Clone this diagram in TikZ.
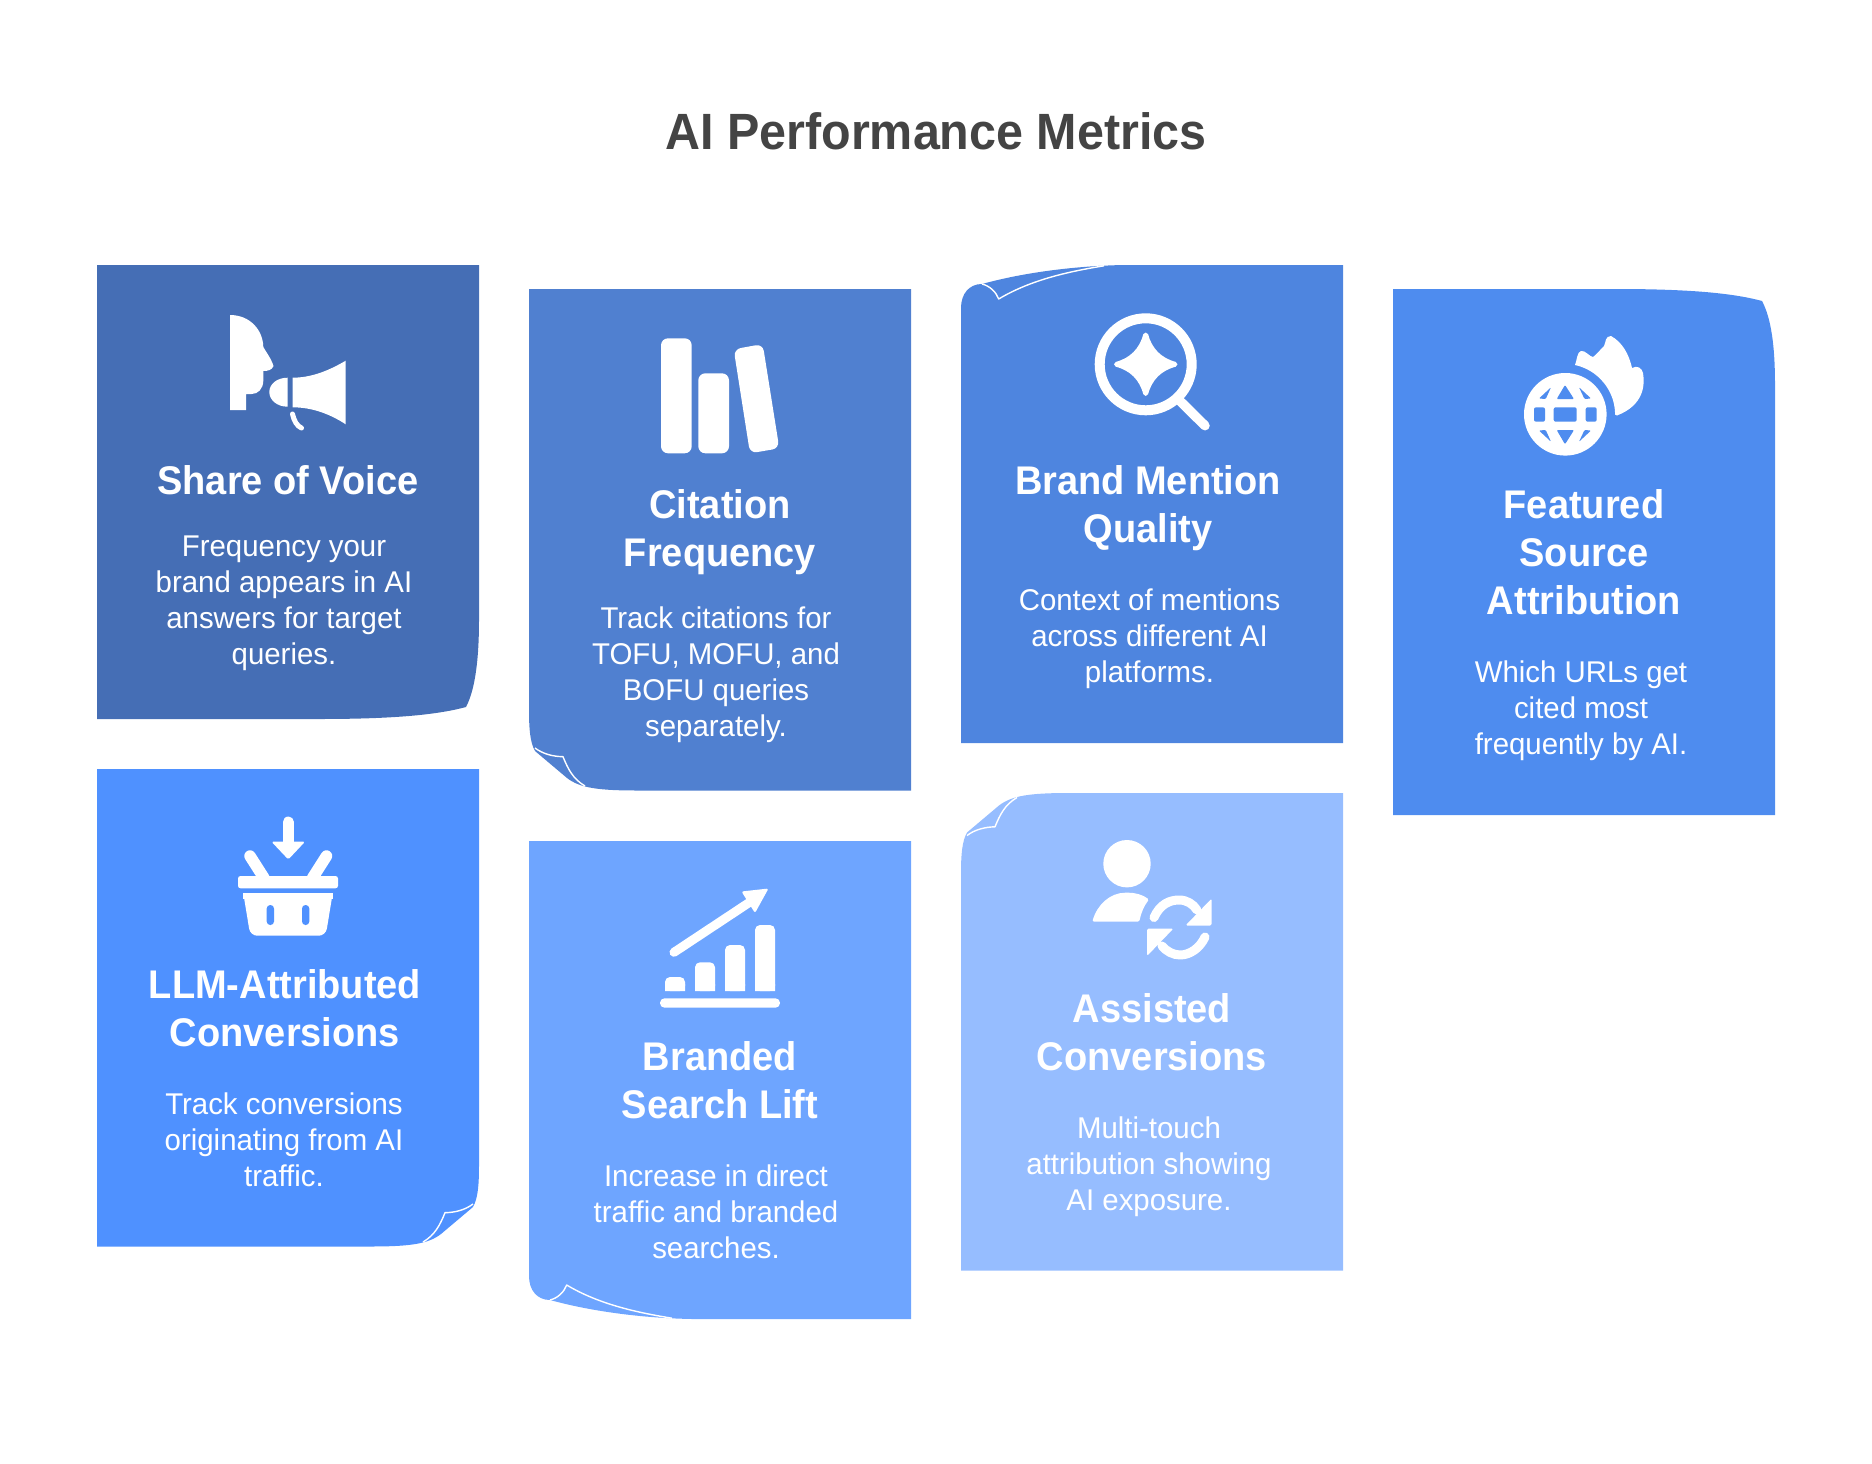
\documentclass[tikz,border=0pt]{standalone}
\usepackage{fontspec}
\setmainfont[FakeStretch=0.98]{Liberation Sans}
\newfontfamily\headfont[FakeStretch=0.95]{Liberation Sans}
\definecolor{cardA}{HTML}{456EB5}
\definecolor{cardB}{HTML}{5080D0}
\definecolor{cardC}{HTML}{4E85DF}
\definecolor{cardD}{HTML}{4E8CEF}
\definecolor{cardE}{HTML}{4F91FF}
\definecolor{cardF}{HTML}{6EA5FF}
\definecolor{cardG}{HTML}{96BDFF}
\definecolor{titlegrey}{HTML}{444444}

\begin{document}
\begin{tikzpicture}
    [x=1pt,y=-1pt,
    cardhead/.style={anchor=base,align=center,text=white,inner sep=0pt,
    font=\headfont\bfseries\fontsize{40}{48}\selectfont},
    cardbody/.style={anchor=base,align=center,text=white,inner sep=0pt,
    font=\fontsize{30}{36}\selectfont},
    curl/.style={draw=white,line width=1.4pt,line join=round},
    icon/.style={fill=white,draw=none},
    iconline/.style={draw=white,line cap=round,line join=round}]
    \useasboundingbox (0,0) rectangle (1872,1464);
    \node[anchor=base,inner sep=0pt,text=titlegrey,font=\headfont\bfseries\fontsize{51}{60}\selectfont] (title) at (936,149) {AI Performance Metrics};

    % cards
    \fill[cardA] (97,265) -- (479,265) -- (479,620) .. controls (479,660) and (475,690) .. (466,707) .. controls (440,714) and (400,719) .. (320,719) -- (97,719) -- cycle;
    \fill[cardB] (529,289) -- (911,289) -- (911,790.5) -- (638,790.5) .. controls (598,790.5) and (580,788) .. (567,778) -- (535,751) .. controls (530,742) and (529,729) .. (529,709) -- cycle;
    \draw[curl] (535,748) .. controls (543,754) and (553,756.5) .. (563,756.7) .. controls (568,769) and (573,779) .. (585,786);
    \fill[cardC] (961,743) -- (1343,743) -- (1343,265) -- (1124,265) .. controls (1072,266) and (1022,273) .. (982,284) .. controls (969,284) and (961,294) .. (961,308) -- cycle;
    \draw[curl] (982,284) .. controls (990,286) and (996,292) .. (998.7,299) .. controls (1032,279) and (1072,271) .. (1104,265.8);
    \fill[cardD] (1393,815) -- (1775,815) -- (1775,385) .. controls (1775,345) and (1771,318) .. (1762,301) .. controls (1736,294) and (1696,289) .. (1616,289) -- (1393,289) -- cycle;
    \fill[cardE] (97,769) -- (479,769) -- (479,1165) .. controls (479,1185) and (478,1198) .. (473,1207) -- (441,1234) .. controls (428,1244) and (410,1246.5) .. (370,1246.5) -- (97,1246.5) -- cycle;
    \draw[curl] (473,1204) .. controls (465,1210) and (455,1212.5) .. (445,1212.7) .. controls (440,1225) and (435,1235) .. (423,1242);
    \fill[cardF] (529,841) -- (911,841) -- (911,1319) -- (692,1319) .. controls (640,1318) and (590,1311) .. (550,1300) .. controls (537,1300) and (529,1290) .. (529,1276) -- cycle;
    \draw[curl] (550,1300) .. controls (558,1298) and (564,1292) .. (566.7,1285) .. controls (600,1305) and (640,1313) .. (672,1318.2);
    \fill[cardG] (961,874.5) .. controls (961,854.5) and (962,841.5) .. (967,832.5) -- (999,805.5) .. controls (1012,795.5) and (1030,793) .. (1070,793) -- (1343,793) -- (1343,1270.5) -- (961,1270.5) -- cycle;
    \draw[curl] (967,835.5) .. controls (975,829.5) and (985,827) .. (995,826.8) .. controls (1000,814.5) and (1005,804.5) .. (1017,797.5);

    % speaker and megaphone
    \fill[icon] (230,315) .. controls (250,315) and (263,330) .. (263.3,347) .. controls (266,352) and (271,358) .. (273.5,366) .. controls (272,370) and (268,371) .. (263.3,371) -- (263.3,381) .. controls (263,389) and (258,394) .. (251.7,394) -- (246,394) -- (246,410) -- (230,410) -- cycle;
    \fill[icon] (287.7,377.7) -- (287.7,406.7) .. controls (277,406.7) and (269.3,400) .. (269.3,392) .. controls (269.3,384) and (277,377.7) .. (287.7,377.7) -- cycle;
    \fill[icon] (292.7,377.7) .. controls (312,377.7) and (330,370) .. (345.7,360.7) -- (345.7,424.3) .. controls (330,414) and (312,407.3) .. (292.7,407.3) -- cycle;
    \draw[iconline,line width=5pt] (292.5,414) .. controls (294,421) and (297,426) .. (301.5,428);

    % books
    \fill[icon,rounded corners=7pt] (661,338.3) rectangle (691.7,453.3);
    \fill[icon,rounded corners=7pt] (698.3,373.3) rectangle (729,453.3);
    \fill[icon,rounded corners=7pt] (733.7,349.3) -- (762.7,344) -- (779.3,448.3) -- (750,453.3) -- cycle;

    % magnifier with spark
    \draw[iconline,line width=10pt] (1145.7,364.3) circle[radius=46pt];
    \draw[iconline,line width=9.5pt] (1180,401) -- (1205,425.7);
    \filldraw[icon,iconline,line width=5pt] (1145.7,335) .. controls (1149.7,350) and (1159.7,360.3) .. (1175,364.3) .. controls (1159.7,368.3) and (1149.7,378.3) .. (1145.7,393.5) .. controls (1141.7,378.3) and (1131.7,368.3) .. (1116.5,364.3) .. controls (1131.7,360.3) and (1141.7,350) .. (1145.7,335) -- cycle;

    % globe and flame
    \fill[icon] (1565.3,414.3) circle[radius=41.3pt];
    \fill[cardD,rounded corners=2pt] (1553.7,407.3) rectangle (1576.7,421.7);
    \fill[cardD,rounded corners=2pt] (1534,407.3) rectangle (1545,421.7);
    \fill[cardD,rounded corners=2pt] (1585.7,407.3) rectangle (1596.7,421.7);
    \fill[cardD,rounded corners=1pt] (1565,385) -- (1574,399) -- (1556.7,399) -- cycle;
    \fill[cardD,rounded corners=1pt] (1565,444.3) -- (1574,430) -- (1556.7,430) -- cycle;
    \fill[cardD,rounded corners=1pt] (1551,387.3) -- (1545.7,399) -- (1539,398.5) -- cycle;
    \fill[cardD,rounded corners=1pt] (1579,387.3) -- (1584.5,399) -- (1591,398.5) -- cycle;
    \fill[cardD,rounded corners=1pt] (1551,441.7) -- (1545.7,430) -- (1539,430.5) -- cycle;
    \fill[cardD,rounded corners=1pt] (1579,441.7) -- (1584.5,430) -- (1591,430.5) -- cycle;
    \fill[icon] (1575,365) .. controls (1577,360) and (1577,352) .. (1581,351) .. controls (1585,350) and (1590,357) .. (1593,357) .. controls (1596,355) and (1600,350) .. (1604,346) .. controls (1606,342) and (1605,336) .. (1611,336) .. controls (1622,342) and (1629,354) .. (1632,368) .. controls (1637,365) and (1642,368) .. (1643,373) .. controls (1645,385) and (1644,405) .. (1617,415.5) .. controls (1615,416) and (1615,414) .. (1615,412) .. controls (1614,390) and (1598,370) .. (1575,365) -- cycle;

    % basket with arrow
    \draw[iconline,line width=11pt] (288.3,822) -- (288.3,845);
    \fill[icon,rounded corners=1.5pt] (271.5,841.7) -- (305,841.7) -- (288.3,859.5) -- cycle;
    \draw[iconline,line width=11.5pt] (250,856) -- (264,878);
    \draw[iconline,line width=11.5pt] (326.5,856) -- (312.5,878);
    \fill[icon,rounded corners=2.5pt] (238,876) rectangle (338,888.3);
    \fill[icon,rounded corners=7pt] (243.3,893.3) -- (332.7,893.3) -- (325.7,935.7) -- (250.3,935.7) -- cycle;
    \fill[icon] (243.3,893.3) rectangle (332.7,899);
    \fill[cardE,rounded corners=3.5pt] (266.7,905) rectangle (274,925);
    \fill[cardE,rounded corners=3.5pt] (302,905) rectangle (309.3,925);

    % rising bars with arrow
    \fill[icon,rounded corners=4.5pt] (660,998.3) rectangle (780,1007.7);
    \fill[icon,rounded corners=5pt] (665,991) -- (665,977) -- (685,977) -- (685,991) -- cycle;
    \fill[icon,rounded corners=5pt] (695,991) -- (695,962.3) -- (715,962.3) -- (715,991) -- cycle;
    \fill[icon,rounded corners=5pt] (725,991) -- (725,945) -- (745,945) -- (745,991) -- cycle;
    \fill[icon,rounded corners=5pt] (755,991) -- (755,925) -- (775,925) -- (775,991) -- cycle;
    \fill[icon] (665,991) rectangle (685,984) (695,991) rectangle (715,984) (725,991) rectangle (745,984) (755,991) rectangle (775,984);
    \draw[iconline,line width=9pt] (674,952.3) -- (750,902);
    \fill[icon,rounded corners=2pt] (768.5,888.5) -- (755,913) -- (741.5,891.5) -- cycle;

    % person with refresh arrows
    \fill[icon] (1127,863.7) circle[radius=23.7pt];
    \fill[icon,rounded corners=1.5pt] (1092.3,921.7) .. controls (1097,905) and (1110,892.7) .. (1126.7,892.7) .. controls (1136,892.7) and (1143,895) .. (1149,899.5) .. controls (1144,906) and (1141,913) .. (1139.3,921.7) -- cycle;
    \draw[iconline,line width=9pt] (1154,917.5) .. controls (1160,904) and (1170,900) .. (1179,900) .. controls (1187,900) and (1193,904) .. (1197,910);
    \fill[icon,rounded corners=1.5pt] (1211.7,898.5) -- (1211.7,925.5) -- (1185.5,925.5) -- cycle;
    \draw[iconline,line width=9pt] (1205,937) .. controls (1200,948) and (1190,955) .. (1180,955) .. controls (1173,955) and (1166,951) .. (1162,946);
    \fill[icon,rounded corners=1.5pt] (1147,928.5) -- (1173.5,928.5) -- (1147,956) -- cycle;

    % texts of the cards
    \node[cardhead] (voicehead) at (288,494) {Share of Voice};
    \node[cardbody] (voicebody) at (284,664) {Frequency your\\brand appears in AI\\answers for target\\queries.};
    \node[cardhead] (citehead) at (720,566) {Citation\\Frequency};
    \node[cardbody] (citebody) at (716,736) {Track citations for\\TOFU, MOFU, and\\BOFU queries\\separately.};
    \node[cardhead] (mentionhead) at (1148,542) {Brand Mention\\Quality};
    \node[cardbody] (mentionbody) at (1149.5,682) {Context of mentions\\across different AI\\platforms.};
    \node[cardhead] (sourcehead) at (1584,614) {Featured\\Source\\Attribution};
    \node[cardbody] (sourcebody) at (1581,754) {Which URLs get\\cited most\\frequently by AI.};
    \node[cardhead] (llmhead) at (285,1046) {LLM-Attributed\\Conversions};
    \node[cardbody] (llmbody) at (284,1186) {Track conversions\\originating from AI\\traffic.};
    \node[cardhead] (lifthead) at (720,1118) {Branded\\Search Lift};
    \node[cardbody] (liftbody) at (716,1258) {Increase in direct\\traffic and branded\\searches.};
    \node[cardhead] (assisthead) at (1152,1070) {Assisted\\Conversions};
    \node[cardbody] (assistbody) at (1149,1210) {Multi-touch\\attribution showing\\AI exposure.};
\end{tikzpicture}
\end{document}
